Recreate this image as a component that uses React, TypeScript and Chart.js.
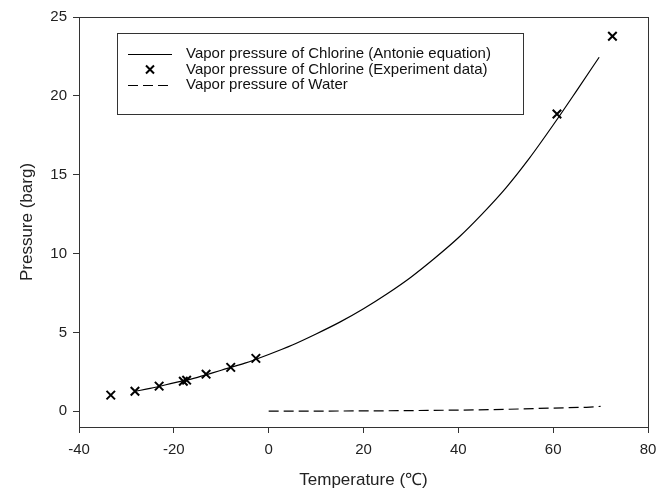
import React, { useEffect, useRef } from "react";
import { Chart, registerables } from "chart.js";

Chart.register(...registerables);

// Antoine-equation curve for chlorine
const antoineT = [-28, -25, -20, -15, -10, -5, 0, 5, 10, 15, 20, 25, 30, 35, 40, 45, 50, 55, 60, 65, 69.7];
const antoineP = [1.27, 1.45, 1.8, 2.15, 2.6, 3.05, 3.6, 4.2, 4.9, 5.65, 6.5, 7.45, 8.5, 9.7, 11.0, 12.5, 14.15, 16.05, 18.15, 20.35, 22.45];

// Experimental data for chlorine
const expT = [-33.3, -28.2, -23.1, -18.0, -17.3, -13.2, -8.0, -2.7, 60.8, 72.5];
const expP = [1.02, 1.27, 1.59, 1.9, 1.97, 2.35, 2.78, 3.35, 18.85, 23.78];

// Water vapour pressure
const waterT = [0, 10, 20, 30, 40, 50, 60, 67, 70];
const waterP = [0.01, 0.01, 0.02, 0.04, 0.07, 0.12, 0.2, 0.25, 0.31];

const xTicks = [-40, -20, 0, 20, 40, 60, 80];
const yTicks = [0, 5, 10, 15, 20, 25];

const legendLabels = [
  "Vapor pressure of Chlorine (Antonie equation)",
  "Vapor pressure of Chlorine (Experiment data)",
  "Vapor pressure of Water",
];

const FONT = "'Liberation Sans', Arial, sans-serif";

const legendPlugin = {
  id: "insideLegend",
  afterDraw(chart: any) {
    const ctx = chart.ctx;
    ctx.save();
    ctx.strokeStyle = "#333";
    ctx.lineWidth = 1;
    ctx.strokeRect(117.5, 33.5, 406, 81);
    ctx.font = `15px ${FONT}`;
    ctx.fillStyle = "#111";
    ctx.textBaseline = "middle";
    ctx.textAlign = "left";
    const rows = [54, 69.5, 85];
    rows.forEach((y, i) => ctx.fillText(legendLabels[i], 186, y));
    // solid line
    ctx.strokeStyle = "#000";
    ctx.beginPath();
    ctx.moveTo(128, rows[0] + 0.5);
    ctx.lineTo(172, rows[0] + 0.5);
    ctx.stroke();
    // cross
    ctx.lineWidth = 2;
    ctx.beginPath();
    ctx.moveTo(146, rows[1] - 4);
    ctx.lineTo(154, rows[1] + 4);
    ctx.moveTo(154, rows[1] - 4);
    ctx.lineTo(146, rows[1] + 4);
    ctx.stroke();
    // dashed
    ctx.lineWidth = 1.2;
    ctx.setLineDash([10, 5]);
    ctx.beginPath();
    ctx.moveTo(128, rows[2] + 0.5);
    ctx.lineTo(172, rows[2] + 0.5);
    ctx.stroke();
    ctx.restore();
  },
};

const framePlugin = {
  id: "frame",
  afterDraw(chart: any) {
    const { ctx, chartArea } = chart;
    ctx.save();
    ctx.strokeStyle = "#333";
    ctx.lineWidth = 1;
    ctx.strokeRect(
      Math.round(chartArea.left) + 0.5,
      Math.round(chartArea.top) + 0.5,
      Math.round(chartArea.right - chartArea.left),
      Math.round(chartArea.bottom - chartArea.top)
    );
    ctx.restore();
  },
};

export default function App() {
  const ref = useRef<HTMLCanvasElement>(null);
  useEffect(() => {
    document.body.style.margin = "0";
    const chart = new Chart(ref.current as HTMLCanvasElement, {
      type: "scatter",
      data: {
        datasets: [
          {
            label: legendLabels[0],
            data: antoineT.map((t, i) => ({ x: t, y: antoineP[i] })),
            showLine: true,
            borderColor: "#000",
            borderWidth: 1.2,
            pointRadius: 0,
            cubicInterpolationMode: "monotone",
            fill: false,
          },
          {
            label: legendLabels[2],
            data: waterT.map((t, i) => ({ x: t, y: waterP[i] })),
            showLine: true,
            borderColor: "#000",
            borderWidth: 1.2,
            borderDash: [10, 5],
            pointRadius: 0,
            fill: false,
          },
          {
            label: legendLabels[1],
            data: expT.map((t, i) => ({ x: t, y: expP[i] })),
            showLine: false,
            pointStyle: "crossRot",
            pointRadius: 6,
            borderColor: "#000",
            borderWidth: 2,
          },
        ],
      },
      options: {
        animation: false,
        responsive: false,
        layout: { padding: { left: 0, top: 17, right: 23, bottom: 0 } },
        plugins: { legend: { display: false }, tooltip: { enabled: false } },
        scales: {
          x: {
            type: "linear",
            min: -40,
            max: 80,
            afterBuildTicks: (s: any) => {
              s.ticks = xTicks.map((v) => ({ value: v }));
            },
            afterFit: (s: any) => {
              s.height = 66;
            },
            grid: { drawOnChartArea: false, tickLength: 6, color: "#333" },
            border: { display: false },
            ticks: { color: "#222", font: { family: FONT, size: 15 }, padding: 8, maxRotation: 0 },
            title: {
              display: true,
              text: "Temperature (℃)",
              color: "#222",
              font: { family: FONT, size: 17 },
              padding: { top: 0, bottom: 2 },
            },
          },
          y: {
            type: "linear",
            min: -1,
            max: 25,
            afterBuildTicks: (s: any) => {
              s.ticks = yTicks.map((v) => ({ value: v }));
            },
            afterFit: (s: any) => {
              s.width = 79;
            },
            grid: { drawOnChartArea: false, tickLength: 6, color: "#333" },
            border: { display: false },
            ticks: { color: "#222", font: { family: FONT, size: 15 }, padding: 6 },
            title: {
              display: true,
              text: "Pressure (barg)",
              color: "#222",
              font: { family: FONT, size: 17 },
              padding: { top: 17, bottom: 0 },
            },
          },
        },
      },
      plugins: [framePlugin, legendPlugin],
    } as any);
    return () => chart.destroy();
  }, []);
  return (
    <div style={{ width: 671, height: 493 }}>
      <canvas ref={ref} width={671} height={493} style={{ display: "block" }} />
    </div>
  );
}
